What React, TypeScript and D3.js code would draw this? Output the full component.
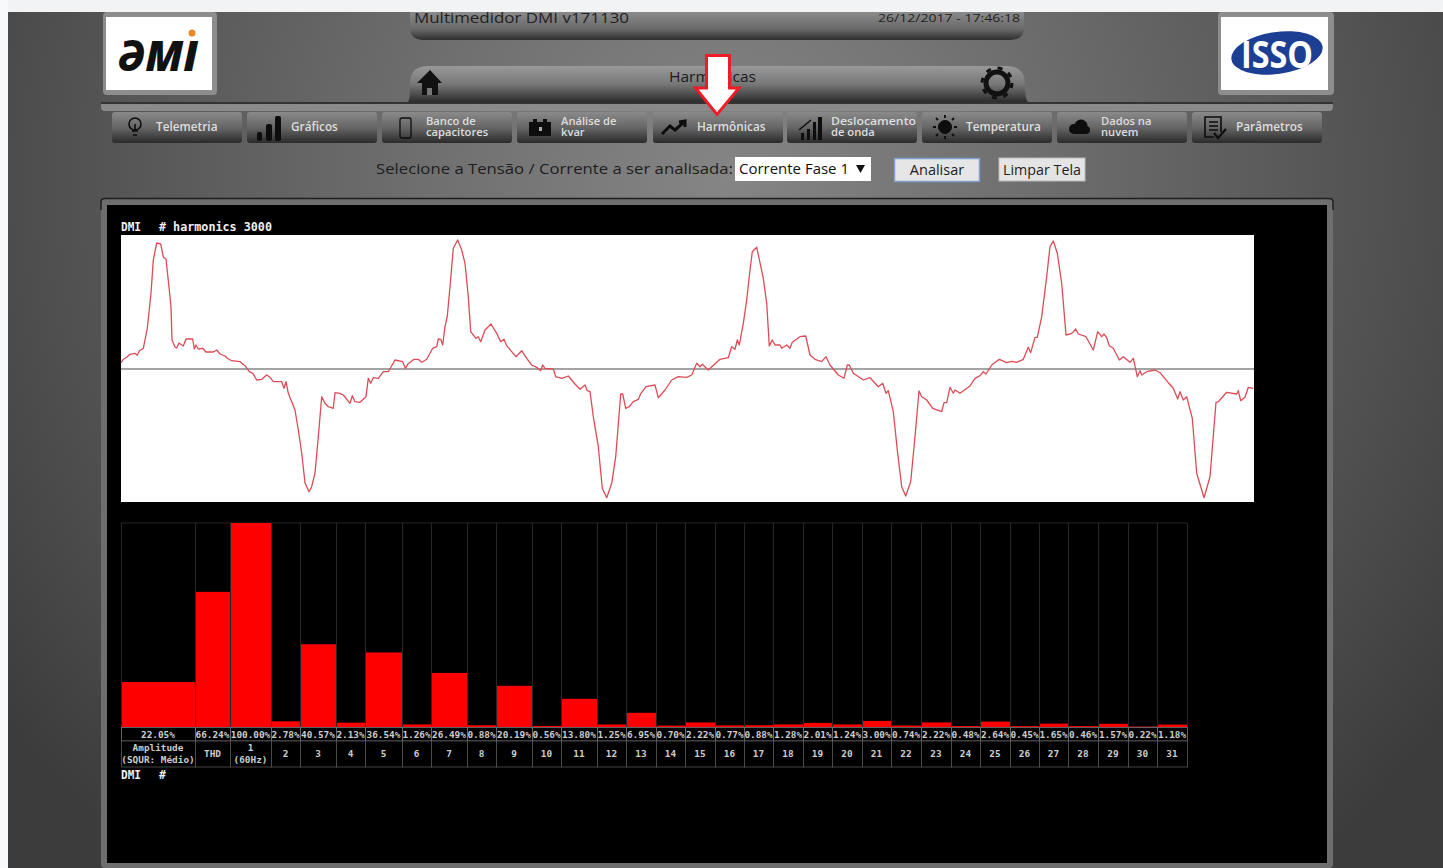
import React from "react";
import * as d3 from "d3";

const harmonicLabels = ["Amplitude|(SQUR: Médio)", "THD", "1|(60Hz)", "2", "3", "4", "5", "6", "7", "8", "9", "10", "11", "12", "13", "14", "15", "16", "17", "18", "19", "20", "21", "22", "23", "24", "25", "26", "27", "28", "29", "30", "31"];
const harmonicValues = [22.05, 66.24, 100, 2.78, 40.57, 2.13, 36.54, 1.26, 26.49, 0.88, 20.19, 0.56, 13.8, 1.25, 6.95, 0.7, 2.22, 0.77, 0.88, 1.28, 2.01, 1.24, 3.0, 0.74, 2.22, 0.48, 2.64, 0.45, 1.65, 0.46, 1.57, 0.22, 1.18];
const columnEdges = [121, 195, 230, 271, 300, 336, 365, 402, 431, 467, 496, 532, 561, 597, 626, 656, 685, 715, 744, 773, 803, 832, 862, 891, 921, 951, 980, 1010, 1039, 1068, 1098, 1128, 1157, 1187];

const waveTimes = [0, 2.3, 5.7, 9, 14, 16.3, 18.3, 22.3, 26.3, 30, 32.3, 35.7, 39.7, 42.3, 45, 48.3, 50, 51, 54, 55.7, 58, 62.3, 65, 71.7, 73.3, 75, 77.3, 81.7, 85, 92.3, 95.7, 99, 104, 106.3, 110.7, 119, 124, 128.3, 131.7, 135.7, 140.7, 145.7, 149, 152.3, 160.7, 163, 165, 167.3, 174, 177.3, 180.7, 184, 188, 190.7, 194, 197.3, 200.7, 204, 207.3, 212.3, 214, 219, 222.3, 229, 231.3, 234, 239, 245, 247.3, 249.7, 252.3, 257.3, 262.3, 267.3, 274, 281.7, 284.3, 286.7, 293, 297.3, 300.7, 305.7, 311.7, 315.7, 317.3, 319.7, 321.7, 324, 326.3, 329, 332.3, 336.7, 340.7, 344, 347.3, 349.7, 352.3, 355, 357.3, 359.7, 364, 370, 375.7, 379.7, 383, 385.7, 390.7, 395, 400.7, 405.7, 410.7, 415.7, 419.7, 421.7, 424, 432.3, 434.7, 440.7, 447.3, 454, 459, 464, 466.3, 469, 472.3, 477.3, 481.3, 485.7, 490.7, 494.7, 499.7, 501.7, 504.7, 508.3, 512.3, 517.3, 520, 525, 534, 537.3, 544, 550.7, 557.3, 565.7, 570.7, 575.7, 579, 581.3, 587.3, 599, 607.3, 610.7, 614, 616.3, 618.3, 622.3, 625.7, 629, 631.3, 635.7, 638.3, 642.3, 645.7, 648.3, 651.3, 654, 659, 660.7, 665.7, 669, 671.3, 679, 684.7, 689, 694, 700.7, 705, 709, 717.3, 723, 726.3, 728.3, 732.3, 742.3, 749, 757.3, 761.7, 765, 767.3, 772.3, 776.3, 780.7, 784.7, 789.7, 794, 798, 800.7, 805.7, 811.7, 820.7, 823, 825.7, 829, 832.3, 834, 839, 849, 854, 859, 862.3, 865, 870.7, 878.3, 885.7, 890.7, 895.7, 902.3, 907.3, 909.7, 914, 916.3, 920.7, 925.7, 929, 932.3, 936.3, 940.7, 945, 949, 951.7, 954.7, 957.3, 965, 972.3, 976.7, 980.7, 983, 985.7, 988.3, 992.3, 998.3, 1002.3, 1009, 1012.3, 1016.3, 1019, 1020.7, 1025.7, 1034, 1039, 1047.3, 1052.3, 1056.7, 1059, 1062.3, 1065.7, 1071.3, 1075.7, 1083, 1089, 1095, 1097.3, 1105.7, 1115.7, 1117.3, 1119.7, 1124, 1127.3, 1132.3];
const waveValues = [6.3, 9.7, 11.7, 14.7, 15.7, 13.7, 18, 20.7, 40.7, 75.7, 109, 126, 125, 112, 110, 79, 62, 29, 22, 21, 26, 23, 30, 30, 20, 24, 20, 20.7, 17, 17, 19, 15, 13, 10.7, 8.3, 7.3, 3.3, -2.7, -4.3, -11, -10.3, -6, -8.3, -12.7, -12.7, -19.3, -12.7, -24.3, -41, -61, -84, -114, -122.7, -117.7, -104, -67.7, -27.7, -34.3, -37.7, -39.3, -23.7, -24.3, -26, -34.3, -26.7, -32.7, -33.3, -27.7, -9.3, -14.3, -8.7, -9.3, -2.7, -2.7, 9, 7.3, 0.7, 4.7, 9.7, 9.7, 6.7, 9.7, 20.7, 22.3, 30, 29.7, 24, 42.3, 53, 82.3, 120.7, 129, 119, 105.7, 72.3, 37.3, 34, 30.7, 32.3, 27.3, 39, 45, 35.7, 27.3, 29.7, 23.3, 17.3, 12.3, 18.3, 10.7, 4, 1.7, -1.7, 4, 0.7, 0, -7.7, -9.3, -7, -15, -20.3, -16, -21.7, -22.7, -47.7, -77.7, -119.3, -128.7, -114.3, -87.7, -25, -25, -39.3, -37.7, -32.7, -30.3, -24.3, -17.7, -16, -28.7, -21, -11, -7.7, -8.3, -6, 5.7, 2.3, 4.7, -1, 9.7, 11.3, 22.3, 19.7, 29, 24, 45.7, 69, 99, 117.3, 121.7, 109.7, 90.7, 65.7, 23, 29, 24, 24, 20.7, 24, 20.7, 26.7, 32.3, 33, 14, 9.7, 7.3, 12.3, 4, -6, -9.3, 4, 4, -4.3, -11, -8.7, -17.7, -14.3, -24.3, -21.7, -42.7, -81, -117.7, -127, -112.7, -67.7, -22, -27.7, -31, -39.3, -42.7, -33.7, -33.7, -18.3, -24.3, -21, -24.3, -17, -9.3, -6.7, -2.7, -5, 4, 9.7, 6.3, 7.7, 6.7, 9.7, 21.7, 16.3, 31.7, 31.7, 52.3, 92.3, 122.3, 128, 115.7, 85.7, 34, 35, 36.3, 40, 35, 32.3, 19, 37.3, 32.3, 35, 31.3, 23.3, 20.7, 9, 12.3, 6.7, 10.7, -7.7, -1.7, -6, -2.7, -1, -3.7, -13.7, -19.3, -30, -22.7, -31, -27.7, -49.3, -104.3, -128.7, -107.7, -33.3, -32.7, -23.3, -25, -21.7, -31.7, -28.3, -18.3, -19.3];

const menuItems = ["Telemetria", "Gráficos", "Banco de|capacitores", "Análise de|kvar", "Harmônicas", "Deslocamento|de onda", "Temperatura", "Dados na|nuvem", "Parâmetros"];
const menuEdges = [112, 247, 382, 517, 653, 787, 922, 1057, 1192];
const headerTitle = "Multimedidor DMI v171130";
const headerDate = "26/12/2017 - 17:46:18";
const uiSans = "'Open Sans', 'Noto Sans', sans-serif";
const mono = "'DejaVu Sans Mono', 'Liberation Mono', monospace";

const xWave = d3.scaleLinear().domain([0, 1133]).range([121, 1254]);
const yWave = d3.scaleLinear().domain([-133, 134]).range([502, 235]);
const xCol = d3.scaleLinear().domain(d3.range(columnEdges.length)).range(columnEdges);
const yBar = d3.scaleLinear().domain([0, 100]).range([727, 523]);
const waveLine = d3.line<number>().x((_, i) => xWave(waveTimes[i])).y((v) => yWave(v));

function MenuIcon({ i, x }: { i: number; x: number }) {
  const c = "#0d0d0d";
  const cx = x + 23;
  switch (i) {
    case 0:
      return <g fill="none" stroke={c} strokeWidth={1.6}><circle cx={cx} cy={124} r={6} /><path d={`M${cx - 3} 131 L${cx + 3} 131 M${cx - 2} 135 L${cx + 2} 135 M${cx} 124 L${cx} 130`} /></g>;
    case 1:
      return <g fill={c}><rect x={x + 10} y={132} width={5} height={9} rx={2} /><rect x={x + 19} y={124} width={6} height={17} rx={2} /><rect x={x + 28} y={116} width={6} height={25} rx={2} /></g>;
    case 2:
      return <rect x={cx - 5} y={118} width={11} height={20} rx={2} fill="none" stroke={c} strokeWidth={1.3} />;
    case 3:
      return <g fill={c}><rect x={cx - 11} y={122} width={22} height={14} /><rect x={cx - 7} y={119} width={4} height={3} /><rect x={cx + 3} y={119} width={4} height={3} /><rect x={cx - 1} y={127} width={3} height={4} fill="#aaa" /></g>;
    case 4:
      return <path d={`M${cx - 14} 134 L${cx - 6} 126 L${cx - 1} 130 L${cx + 7} 123 M${cx + 3} 122 L${cx + 9} 121 L${cx + 9} 127`} fill="none" stroke={c} strokeWidth={3} />;
    case 5:
      return <g fill={c}><rect x={cx - 9} y={133} width={3} height={7} /><rect x={cx - 3} y={129} width={3} height={11} /><rect x={cx + 3} y={122} width={3} height={18} /><rect x={cx + 8} y={117} width={4} height={23} /><path d={`M${cx - 11} 130 L${cx + 1} 120`} stroke={c} strokeWidth={1.5} /></g>;
    case 6:
      return <g fill={c} stroke={c}><circle cx={cx} cy={127} r={6.5} /><path d={`M${cx} 115 V118 M${cx} 136 V139 M${cx - 12} 127 H${cx - 9} M${cx + 9} 127 H${cx + 12} M${cx - 9} 118 L${cx - 7} 120 M${cx + 9} 118 L${cx + 7} 120 M${cx - 9} 136 L${cx - 7} 134 M${cx + 9} 136 L${cx + 7} 134`} strokeWidth={1.8} /></g>;
    case 7:
      return <g fill={c}><circle cx={cx - 6} cy={129} r={5} /><circle cx={cx + 1} cy={126} r={6.5} /><circle cx={cx + 6} cy={130} r={4} /><rect x={cx - 6} y={129} width={12} height={5} /></g>;
    default:
      return <g fill="none" stroke={c} strokeWidth={1.6}><path d={`M${cx + 6} 132 V117 H${cx - 10} V137 H${cx - 1}`} /><path d={`M${cx - 6} 122 H${cx + 3} M${cx - 6} 126 H${cx + 3} M${cx - 6} 130 H${cx + 3}`} /><path d={`M${cx - 1} 133 L${cx + 3} 138 L${cx + 11} 129`} strokeWidth={2.2} /></g>;
  }
}

export default function App() {
  return (
    <svg width={1443} height={868} viewBox="0 0 1443 868" style={{ position: "absolute", left: 0, top: 0, display: "block" }}>
      <defs>
        <radialGradient id="pageBg" gradientUnits="userSpaceOnUse" cx={725} cy={180} r={900}>
          <stop offset="0" stopColor="#858585" />
          <stop offset="0.35" stopColor="#6e6e6e" />
          <stop offset="0.75" stopColor="#505050" />
          <stop offset="1" stopColor="#3c3c3c" />
        </radialGradient>
        <linearGradient id="bar1" x1="0" y1="0" x2="0" y2="1">
          <stop offset="0" stopColor="#8a8a8a" /><stop offset="0.6" stopColor="#6a6a6a" /><stop offset="1" stopColor="#2f2f2f" />
        </linearGradient>
        <linearGradient id="bar2" x1="0" y1="0" x2="0" y2="1">
          <stop offset="0" stopColor="#999" /><stop offset="0.5" stopColor="#787878" /><stop offset="1" stopColor="#2c2c2c" />
        </linearGradient>
        <linearGradient id="menuBg" x1="0" y1="0" x2="0" y2="1">
          <stop offset="0" stopColor="#8a8a8a" /><stop offset="0.5" stopColor="#666" /><stop offset="1" stopColor="#2b2b2b" />
        </linearGradient>
      </defs>

      <rect width={1443} height={868} fill="#fff" />
      <rect x={8} width={1435} height={12} fill="#f1f3f5" />
      <rect x={0} y={0} width={8} height={868} fill="#f8f9fa" />
      <rect x={8} y={12} width={1435} height={856} fill="url(#pageBg)" />

      {/* logos */}
      <rect x={103} y={12} width={114} height={83} rx={4} fill="#8d8d8d" />
      <rect x={106} y={17} width={106} height={73} fill="#fff" />
      <text x={118} y={71} fontFamily={uiSans} fontWeight={800} fontSize={42} fontStyle="italic" fill="#111" textLength={80} lengthAdjust="spacingAndGlyphs">ƏMI</text>
      <circle cx={192} cy={33} r={3.5} fill="#e8862a" />
      <rect x={1218} y={12} width={116} height={83} rx={4} fill="#8d8d8d" />
      <rect x={1221} y={17} width={107} height={73} fill="#fff" />
      <ellipse cx={1277} cy={53} rx={46} ry={21} fill="#1c3f94" transform="rotate(-8 1277 53)" />
      <text x={1277} y={68} textAnchor="middle" fontFamily={uiSans} fontWeight={700} fontSize={38} fill="#fff" textLength={72} lengthAdjust="spacingAndGlyphs">ISSO</text>

      {/* header bars */}
      <path d="M410 12 H1024 V28 Q1024 40 1010 40 H424 Q410 40 410 28 Z" fill="url(#bar1)" />
      <text x={414} y={23} fontFamily={uiSans} fontSize={15} fill="#222" textLength={215} lengthAdjust="spacingAndGlyphs">{headerTitle}</text>
      <text x={1020} y={22} textAnchor="end" fontFamily={uiSans} fontSize={11.5} fill="#222" textLength={142} lengthAdjust="spacingAndGlyphs">{headerDate}</text>
      <path d="M408 102 Q410 100 410 84 Q410 66 428 66 H1006 Q1025 66 1025 84 Q1025 100 1028 102 Z" fill="url(#bar2)" />
      <text x={669} y={82} fontFamily={uiSans} fontSize={14.5} fill="#1a1a1a" textLength={87} lengthAdjust="spacingAndGlyphs">Harmônicas</text>
      <path d="M430 70 L442 83 L438 83 L438 95 L422 95 L422 83 L417 83 Z" fill="#111" />
      <rect x={427} y={88} width={5} height={7} fill="#777" />
      <circle cx={997} cy={83} r={11} fill="none" stroke="#111" strokeWidth={5} />
      <circle cx={997} cy={83} r={15} fill="none" stroke="#111" strokeWidth={3} strokeDasharray="5 6.8" />
      <rect x={101} y={102} width={1232} height={9} rx={4} fill="#8a8a8a" />
      <rect x={101} y={102} width={1232} height={2} fill="#333" />

      {/* menu */}
      {menuItems.map((m, i) => {
        const x = menuEdges[i];
        const lines = m.split("|");
        return (
          <g key={m}>
            <rect x={x} y={112} width={130} height={31} rx={3} fill="url(#menuBg)" />
            <MenuIcon i={i} x={x} />
            {lines.map((l, j) => (
              <text key={l} x={x + 44} y={lines.length > 1 ? 125 + j * 11 : 131} fontFamily={uiSans} fontSize={lines.length > 1 ? 11.2 : 11.8} fontWeight={600} fill="#ddd" textLength={l.length > 11 ? 85 : undefined} lengthAdjust="spacingAndGlyphs">{l}</text>
            ))}
          </g>
        );
      })}

      {/* controls */}
      <text x={376} y={174} fontFamily={uiSans} fontSize={15} fill="#1d1d1d" textLength={357} lengthAdjust="spacingAndGlyphs">Selecione a Tensão / Corrente a ser analisada:</text>
      <rect x={735} y={157} width={136} height={24} fill="#fff" />
      <text x={739} y={174} fontFamily={uiSans} fontSize={14.5} fill="#111" textLength={110} lengthAdjust="spacingAndGlyphs">Corrente Fase 1</text>
      <path d="M856 165 H865 L860.5 173 Z" fill="#111" />
      <rect x={894.5} y={158.5} width={85} height={23} fill="#e6e6e6" stroke="#7f9fd0" strokeWidth={1.5} />
      <text x={937} y={175} textAnchor="middle" fontFamily={uiSans} fontSize={14.5} fill="#222">Analisar</text>
      <rect x={999} y={158} width={86} height={23} fill="#e4e4e4" stroke="#bbb" />
      <text x={1042} y={175} textAnchor="middle" fontFamily={uiSans} fontSize={14.5} fill="#222" textLength={78} lengthAdjust="spacingAndGlyphs">Limpar Tela</text>

      {/* main panel */}
      <rect x={101} y={198} width={1232} height={670} rx={4} fill="#6e6e6e" />
      <path d="M101 210 V202 Q101 198.5 105 198.5 H1329 Q1333 198.5 1333 202 V210" fill="none" stroke="#1e1e1e" strokeWidth={1.4} />
      <rect x={107} y={205} width={1220} height={658} fill="#000" />
      <text x={121} y={231} fontFamily={mono} fontSize={11.5} fontWeight={600} fill="#eee" textLength={20} lengthAdjust="spacingAndGlyphs">DMI</text>
      <text x={159} y={231} fontFamily={mono} fontSize={11.5} fontWeight={600} fill="#eee" textLength={113} lengthAdjust="spacingAndGlyphs"># harmonics 3000</text>

      {/* waveform */}
      <rect x={121} y={235} width={1133} height={267} fill="#fff" />
      <line x1={121} x2={1254} y1={yWave(0)} y2={yWave(0)} stroke="#858585" strokeWidth={1.4} />
      <path d={waveLine(waveValues) ?? ""} fill="none" stroke="#dc4c56" strokeWidth={1.3} strokeLinejoin="round" />

      {/* harmonics bars and table */}
      {harmonicValues.map((v, i) => {
        const x0 = xCol(i);
        const x1 = xCol(i + 1);
        const lines = harmonicLabels[i].split("|");
        const mid = (x0 + x1) / 2;
        return (
          <g key={harmonicLabels[i]}>
            <rect x={x0 + 0.5} y={yBar(100)} width={x1 - x0} height={yBar(0) - yBar(100)} fill="#000" stroke="#2d2d2d" strokeWidth={0.8} />
            <rect x={x0 + 1} y={yBar(v)} width={x1 - x0 - 1} height={yBar(0) - yBar(v)} fill="#f00" />
            <rect x={x0 + 0.5} y={727.5} width={x1 - x0} height={13.5} fill="#000" stroke="#777" strokeWidth={0.8} />
            <rect x={x0 + 0.5} y={741} width={x1 - x0} height={26} fill="#000" stroke="#555" strokeWidth={0.8} />
            <text x={mid} y={737.5} textAnchor="middle" fontFamily={mono} fontSize={9.4} fontWeight={700} fill="#ccc">{v.toFixed(2)}%</text>
            {lines.map((l, j) => (
              <text key={l} x={mid} y={lines.length > 1 ? 751 + j * 12 : 757} textAnchor="middle" fontFamily={mono} fontSize={9.4} fontWeight={700} fill="#ccc">{l}</text>
            ))}
          </g>
        );
      })}
      <text x={121} y={779} fontFamily={mono} fontSize={11.5} fontWeight={600} fill="#eee" textLength={20} lengthAdjust="spacingAndGlyphs">DMI</text>
      <text x={159} y={779} fontFamily={mono} fontSize={11.5} fontWeight={600} fill="#eee">#</text>

      {/* arrow */}
      <path d="M706.5 55.5 H729.5 V88 H739 L717 114.5 L695.5 88 H706.5 Z" fill="#fff" stroke="#ee1c25" strokeWidth={3} />
    </svg>
  );
}
